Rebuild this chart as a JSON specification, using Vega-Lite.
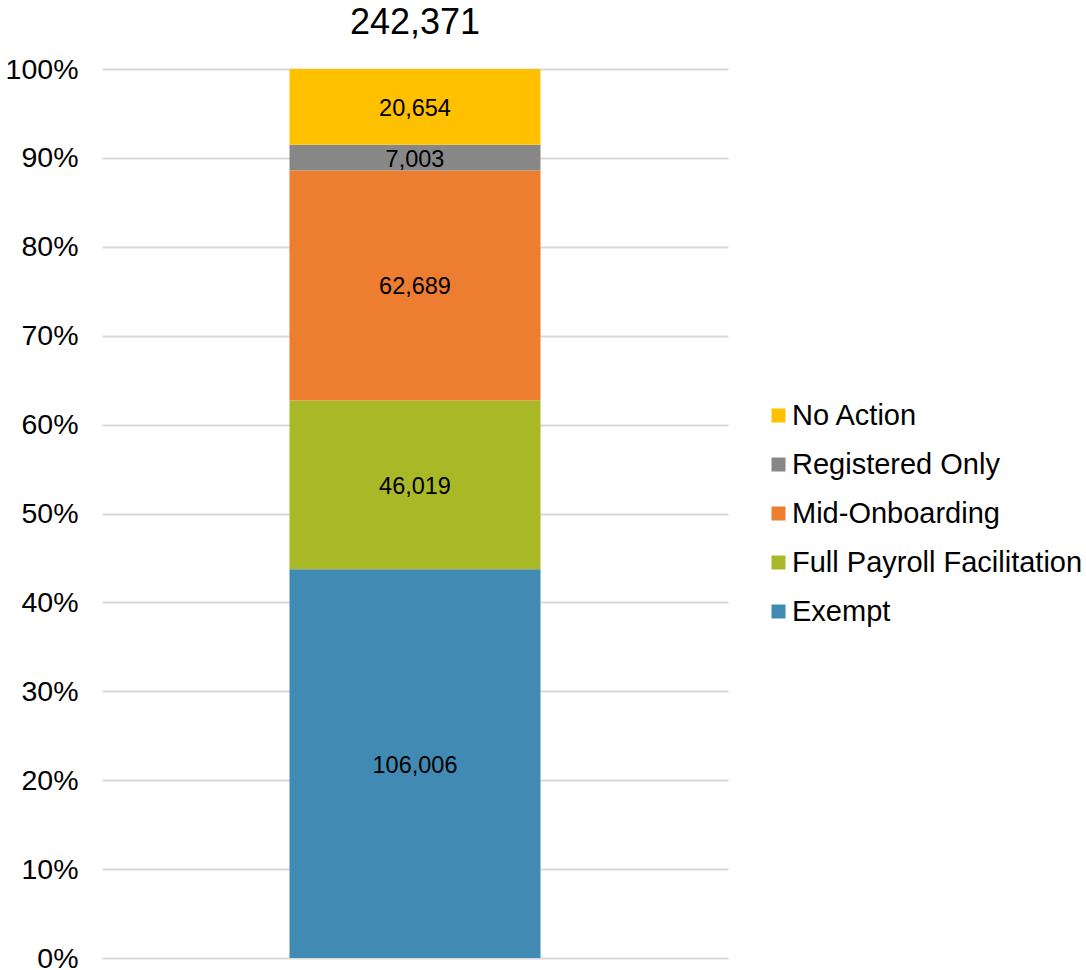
{
  "$schema": "https://vega.github.io/schema/vega-lite/v6.json",
  "width": 626,
  "height": 889,
  "padding": {"left": 5, "top": 5, "right": 5, "bottom": 5},
  "background": "white",
  "title": {"text": "242,371", "fontSize": 36, "fontWeight": "normal", "font": "Liberation Sans", "color": "black", "anchor": "middle", "offset": 13},
  "data": {"values": [
    {"category": "Exempt", "count": 106006},
    {"category": "Full Payroll Facilitation", "count": 46019},
    {"category": "Mid-Onboarding", "count": 62689},
    {"category": "Registered Only", "count": 7003},
    {"category": "No Action", "count": 20654}
  ]},
  "transform": [
    {"calculate": "indexof(['Exempt','Full Payroll Facilitation','Mid-Onboarding','Registered Only','No Action'], datum.category)", "as": "rank"},
    {"stack": "count", "groupby": [], "offset": "normalize", "sort": [{"field": "rank", "order": "ascending"}], "as": ["y0", "y1"]},
    {"calculate": "(datum.y0 + datum.y1) / 2", "as": "ymid"},
    {"calculate": "'all'", "as": "grp"}
  ],
  "encoding": {
    "x": {"field": "grp", "type": "nominal", "axis": null}
  },
  "layer": [
    {
      "mark": {"type": "bar", "size": 251},
      "encoding": {
        "y": {"field": "y1", "type": "quantitative", "scale": {"domain": [0, 1], "nice": false},
          "axis": {"format": "%", "values": [0,0.1,0.2,0.3,0.4,0.5,0.6,0.7,0.8,0.9,1], "title": null, "domain": false, "ticks": false,
            "labelFontSize": 28.5, "labelFont": "Liberation Sans", "labelColor": "black", "labelPadding": 24,
            "gridColor": "#d9d9d9", "gridWidth": 2}},
        "y2": {"field": "y0"},
        "color": {"field": "category", "type": "nominal",
          "scale": {"domain": ["No Action", "Registered Only", "Mid-Onboarding", "Full Payroll Facilitation", "Exempt"],
                    "range": ["#FFC000", "#878787", "#ED7D31", "#A8B827", "#418AB3"]},
          "legend": {"title": null, "orient": "none", "legendX": 662, "legendY": 332, "symbolType": "square", "symbolSize": 196,
            "symbolStrokeWidth": 0, "labelFontSize": 29, "labelFont": "Liberation Sans", "labelColor": "black", "labelOffset": -1,
            "rowPadding": 19, "labelLimit": 400}}
      }
    },
    {
      "mark": {"type": "text", "fontSize": 23.5, "font": "Liberation Sans", "color": "black", "baseline": "middle", "dy": 2},
      "encoding": {
        "y": {"field": "ymid", "type": "quantitative"},
        "text": {"field": "count", "type": "quantitative", "format": ","}
      }
    }
  ],
  "config": {"view": {"stroke": null}}
}
